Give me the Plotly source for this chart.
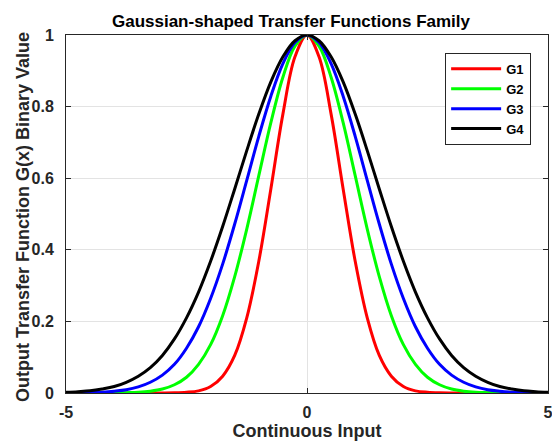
import plotly.graph_objects as go

x_vals = [-5.0, -4.75, -4.5, -4.25, -4.0, -3.75, -3.5, -3.25, -3.0, -2.75, -2.5, -2.25,
          -2.0, -1.75, -1.5, -1.25, -1.0, -0.75, -0.5, -0.25, 0.0, 0.25, 0.5, 0.75,
          1.0, 1.25, 1.5, 1.75, 2.0, 2.25, 2.5, 2.75, 3.0, 3.25, 3.5, 3.75, 4.0, 4.25,
          4.5, 4.75, 5.0]

g1 = [0, 0, 0, 0, 0, 0, 0, 0, 0.0001, 0.0005, 0.002, 0.006, 0.018, 0.047, 0.105, 0.210,
      0.368, 0.570, 0.779, 0.939, 1.0, 0.939, 0.779, 0.570, 0.368, 0.210, 0.105, 0.047,
      0.018, 0.006, 0.002, 0.0005, 0.0001, 0, 0, 0, 0, 0, 0, 0, 0]

g2 = [0, 0, 0, 0.0001, 0.0003, 0.001, 0.002, 0.005, 0.011, 0.023, 0.044, 0.080, 0.135,
      0.216, 0.325, 0.458, 0.607, 0.755, 0.882, 0.969, 1.0, 0.969, 0.882, 0.755, 0.607,
      0.458, 0.325, 0.216, 0.135, 0.080, 0.044, 0.023, 0.011, 0.005, 0.002, 0.001,
      0.0003, 0.0001, 0, 0, 0]

g3 = [0.0002, 0.0005, 0.0012, 0.0024, 0.005, 0.009, 0.017, 0.030, 0.050, 0.080, 0.125,
      0.185, 0.264, 0.360, 0.472, 0.594, 0.717, 0.829, 0.920, 0.979, 1.0, 0.979, 0.920,
      0.829, 0.717, 0.594, 0.472, 0.360, 0.264, 0.185, 0.125, 0.080, 0.050, 0.030,
      0.017, 0.009, 0.005, 0.0024, 0.0012, 0.0005, 0.0002]

g4 = [0.0019, 0.0036, 0.006, 0.011, 0.018, 0.030, 0.047, 0.071, 0.105, 0.151, 0.210,
      0.282, 0.368, 0.465, 0.570, 0.677, 0.779, 0.869, 0.939, 0.984, 1.0, 0.984, 0.939,
      0.869, 0.779, 0.677, 0.570, 0.465, 0.368, 0.282, 0.210, 0.151, 0.105, 0.071,
      0.047, 0.030, 0.018, 0.011, 0.006, 0.0036, 0.0019]

series_names = ["G1", "G2", "G3", "G4"]
series_values = [g1, g2, g3, g4]
series_colors = ["#ff0000", "#00ff00", "#0000ff", "#000000"]

x_ticks = [-5, 0, 5]
x_tick_labels = ["-5", "0", "5"]
y_ticks = [0, 0.2, 0.4, 0.6, 0.8, 1.0]
y_tick_labels = ["0", "0.2", "0.4", "0.6", "0.8", "1"]

FONT = "Liberation Sans, Arial, Helvetica, sans-serif"
AXC = "#262626"

fig = go.Figure()
for name, vals, col in zip(series_names, series_values, series_colors):
    fig.add_trace(go.Scatter(
        x=x_vals, y=vals, name=name, mode="lines",
        line=dict(color=col, width=3, shape="spline", smoothing=1.0),
    ))

fig.update_layout(
    width=552, height=442,
    margin=dict(l=66, r=4, t=35, b=49, autoexpand=False),
    paper_bgcolor="white", plot_bgcolor="white",
    font=dict(family=FONT, color=AXC),
    title=dict(
        text="Gaussian-shaped Transfer Functions Family",
        font=dict(family=FONT, size=17, color="#000000", weight="bold"),
        x=291 / 552, xref="container", xanchor="center",
        y=1 - 21 / 442, yref="container", yanchor="middle",
    ),
    showlegend=True,
    legend=dict(
        x=0.965, y=0.950, xanchor="right", yanchor="top",
        bgcolor="white", bordercolor=AXC, borderwidth=1,
        font=dict(family=FONT, size=13, color="#000000", weight="bold"),
        itemwidth=50, tracegroupgap=0,
    ),
    annotations=[dict(
        text="Output Transfer Function G(x) Binary Value",
        xref="paper", yref="paper",
        x=(23 - 66) / 482, y=(393 - 217) / 358,
        xanchor="center", yanchor="middle", textangle=-90, showarrow=False,
        font=dict(family=FONT, size=18, color=AXC, weight="bold"),
    )],
)

fig.update_xaxes(
    range=[-5, 5], tickmode="array", tickvals=x_ticks, ticktext=x_tick_labels,
    showline=True, linecolor=AXC, linewidth=1, mirror="ticks",
    ticks="inside", ticklen=5, tickcolor=AXC,
    showgrid=True, gridcolor="#e3e3e3", gridwidth=1, zeroline=False,
    tickfont=dict(family=FONT, size=16, color=AXC, weight="bold"),
    ticklabelstandoff=5, ticklabeloverflow="allow",
    title=dict(text="Continuous Input", standoff=4,
               font=dict(family=FONT, size=18, color=AXC, weight="bold")),
    automargin=False,
)
fig.update_yaxes(
    range=[0, 1], tickmode="array", tickvals=y_ticks, ticktext=y_tick_labels,
    showline=True, linecolor=AXC, linewidth=1, mirror="ticks",
    ticks="inside", ticklen=5, tickcolor=AXC,
    showgrid=True, gridcolor="#e3e3e3", gridwidth=1, zeroline=False,
    tickfont=dict(family=FONT, size=16, color=AXC, weight="bold"),
    ticklabelstandoff=8, ticklabeloverflow="allow",
    automargin=False,
)

fig.write_html("out.html")
